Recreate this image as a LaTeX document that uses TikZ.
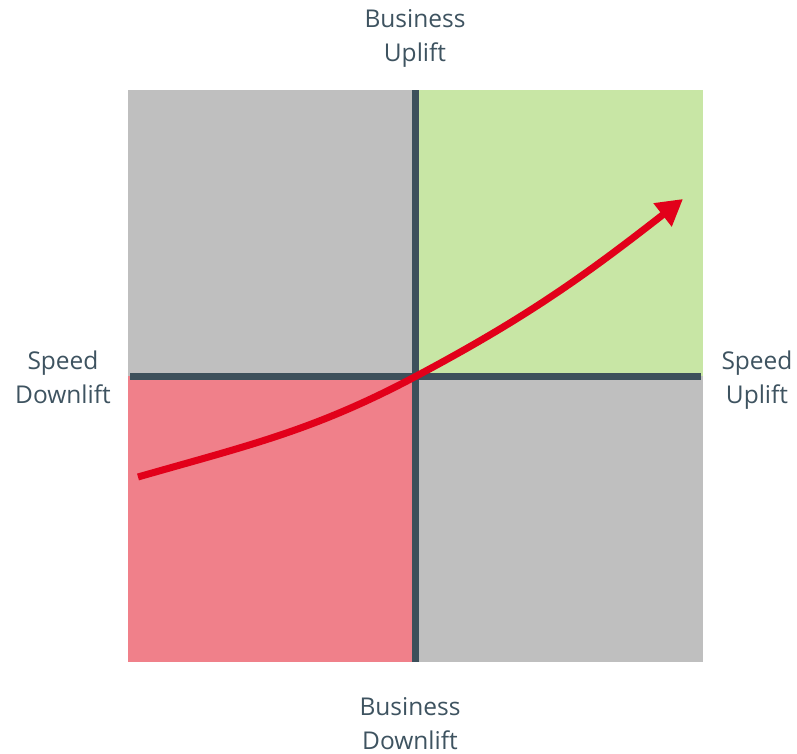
\documentclass[tikz,border=0pt]{standalone}
\usepackage{fontspec}
\setmainfont{Open Sans}
\usetikzlibrary{arrows.meta}

\definecolor{quadgray}{HTML}{BFBFBF}
\definecolor{quadgreen}{HTML}{C8E6A5}
\definecolor{quadpink}{HTML}{F0808A}
\definecolor{axisslate}{HTML}{3D505B}
\definecolor{trendred}{HTML}{E2001A}
\definecolor{labelslate}{HTML}{3E5360}

\tikzset{
  axislabel/.style={align=center, text=labelslate, inner sep=0pt,
    font=\fontsize{24.5}{34}\selectfont},
  axisline/.style={draw=axisslate, line width=7.5pt},
  trend/.style={draw=trendred, line width=7pt,
    -{Triangle[length=26pt,width=28pt]}}
}

\begin{document}
\begin{tikzpicture}[x=1pt,y=1pt]
\useasboundingbox (0,0) rectangle (797,754);

% the four quadrants
\fill[quadgray] (128,377.5) rectangle (415.5,664) ;
\fill[quadgreen] (415.5,377.5) rectangle (703,664) ;
\fill[quadpink] (128,92) rectangle (415.5,377.5) ;
\fill[quadgray] (415.5,92) rectangle (703,377.5) ;

% axes
\coordinate (top) at (415.5,664) ;
\coordinate (bottom) at (415.5,92) ;
\coordinate (left) at (130,377.5) ;
\coordinate (right) at (701,377.5) ;
\coordinate (origin) at (415.5,377.5) ;
\draw[axisline] (bottom) -- (top) ;
\draw[axisline] (left) -- (right) ;

% trend through the origin
\coordinate (start) at (138,277) ;
\coordinate (tip) at (683,555) ;
\draw[trend] (start) to[out=16,in=208] (origin) to[out=28,in=218] (tip) ;

\node[axislabel] (bizup) at (415,716) {Business\\Uplift} ;
\node[axislabel] (bizdown) at (410,30) {Business\\Downlift} ;
\node[axislabel] (speeddown) at (63,377) {Speed\\Downlift} ;
\node[axislabel] (speedup) at (757,374) {Speed\\Uplift} ;
\end{tikzpicture}
\end{document}
